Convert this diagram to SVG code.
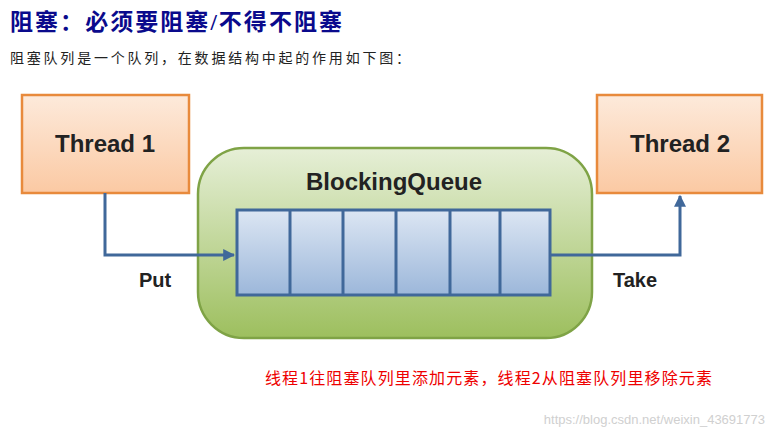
<svg xmlns="http://www.w3.org/2000/svg" width="775" height="437" viewBox="0 0 775 437">
<defs>
<linearGradient id="og" x1="0" y1="0" x2="0" y2="1"><stop offset="0" stop-color="#fdeadb"/><stop offset="1" stop-color="#fbc9a3"/></linearGradient>
<linearGradient id="gg" x1="0" y1="0" x2="0" y2="1"><stop offset="0" stop-color="#e6efd7"/><stop offset="1" stop-color="#9dbf5e"/></linearGradient>
<linearGradient id="bg" x1="0" y1="0" x2="0" y2="1"><stop offset="0" stop-color="#dce6f3"/><stop offset="1" stop-color="#9cb7da"/></linearGradient>
<marker id="ar" viewBox="0 0 10 10" refX="9" refY="5" markerWidth="4" markerHeight="4" orient="auto"><path d="M0,0 L10,5 L0,10 z" fill="#40689a"/></marker>
</defs>
<style>
.t{font-family:"Liberation Sans",Arial,sans-serif;font-weight:bold;fill:#222}
.th{stroke:#e88a3c;stroke-width:2.5;fill:url(#og)}
.c{fill:none;stroke:#40689a;stroke-width:3}
</style>
<rect width="775" height="437" fill="#fff"/>
<text x="10" y="30" font-family="'Liberation Serif','Noto Sans CJK SC',serif" font-size="23" font-weight="bold" fill="#0a0a8c" textLength="332">阻塞：必须要阻塞/不得不阻塞</text>
<text x="10" y="63" font-family="'Noto Sans CJK SC',sans-serif" font-size="14" fill="#222" textLength="400">阻塞队列是一个队列，在数据结构中起的作用如下图：</text>
<g id="thread1"><rect class="th" x="22" y="95" width="167" height="98"/><text class="t" x="105" y="152" font-size="24" text-anchor="middle">Thread 1</text></g>
<g id="thread2"><rect class="th" x="597" y="95" width="165" height="98"/><text class="t" x="680" y="152" font-size="24" text-anchor="middle">Thread 2</text></g>
<g id="queue">
<rect x="198" y="148" width="394" height="190" rx="46" fill="url(#gg)" stroke="#7fa346" stroke-width="2.5"/>
<text class="t" x="394" y="190" font-size="24" text-anchor="middle">BlockingQueue</text>
<rect x="237" y="210" width="313" height="85" fill="url(#bg)" stroke="#40689a" stroke-width="3"/>
<path d="M290,210V295M343,210V295M396,210V295M450,210V295M500,210V295" stroke="#40689a" stroke-width="3"/>
</g>
<g id="connectors">
<path class="c" d="M105,193V255H234" marker-end="url(#ar)"/>
<path class="c" d="M550,255H680V196" marker-end="url(#ar)"/>
</g>
<text class="t" x="155" y="287" font-size="20" text-anchor="middle">Put</text>
<text class="t" x="635" y="287" font-size="20" text-anchor="middle">Take</text>
<text x="265" y="384" font-family="'Noto Sans CJK SC',sans-serif" font-size="16" fill="#e00" textLength="447">线程1往阻塞队列里添加元素，线程2从阻塞队列里移除元素</text>
<text x="765" y="424" font-family="'Liberation Sans',Arial,sans-serif" font-size="13" fill="#d0d0d0" text-anchor="end">https://blog.csdn.net/weixin_43691773</text>
</svg>
